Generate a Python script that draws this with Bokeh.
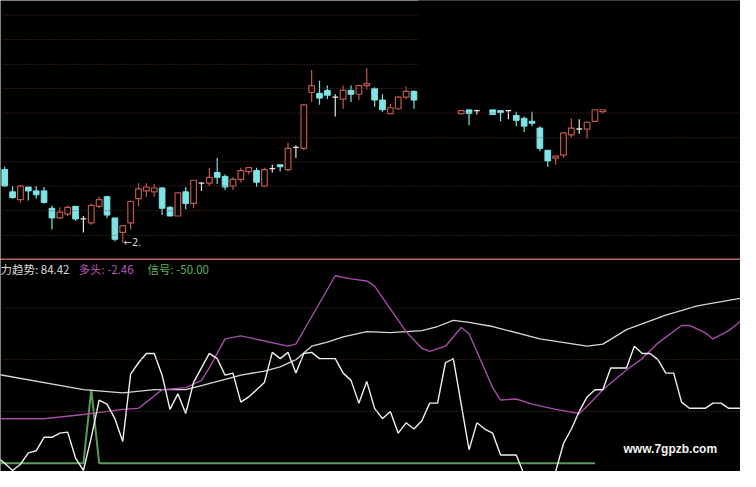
from bokeh.plotting import figure
from bokeh.layouts import column
from bokeh.models import Range1d, Span, BoxAnnotation, Label, ColumnDataSource
from bokeh.embed import file_html
from bokeh.resources import INLINE

# ---------------- data ----------------
# candlesticks: bar index, open, high, low, close (price units)
candle_idx = list(range(0, 53)) + [58, 59, 60] + list(range(62, 77))
candle_open = [9.3, 7.0, 6.2, 7.5, 7.1, 7.1, 5.3, 4.3, 4.7, 5.5,
               4.2, 3.8, 5.5, 6.5, 4.3, 2.8, 3.8, 6.3, 7.1, 7.0,
               7.4, 5.4, 4.5, 7.0, 5.8, 7.9, 7.9, 9.0, 8.6, 7.6,
               8.3, 9.1, 9.2, 7.6, 9.4, 9.8, 9.3, 11.6, 11.5, 17.3,
               17.2, 17.5, 16.8, 16.6, 17.5, 17.1, 18.0, 17.7, 16.5, 15.1,
               15.6, 16.8, 17.4,
               15.1, 15.5, 15.4,
               15.5, 15.4, 15.4, 14.9, 14.6, 14.3, 13.6, 11.3, 10.5, 10.8,
               12.9, 13.5, 13.5, 14.3, 15.3]
candle_high = [9.6, 7.6, 7.7, 7.5, 7.6, 7.5, 5.6, 5.4, 5.6, 5.5,
               4.5, 5.8, 6.5, 6.6, 4.3, 3.5, 6.1, 7.9, 7.9, 7.8,
               7.5, 5.5, 6.9, 7.5, 8.2, 8.0, 9.5, 10.5, 8.8, 8.5,
               9.5, 9.6, 9.5, 9.5, 9.8, 9.8, 12.1, 11.8, 16.1, 19.6,
               18.5, 18.0, 17.1, 18.0, 18.0, 18.1, 19.8, 17.8, 17.1, 16.1,
               16.9, 17.9, 17.5,
               15.5, 15.5, 15.5,
               15.5, 15.4, 15.4, 15.3, 14.8, 15.3, 13.8, 11.3, 10.7, 13.1,
               14.6, 14.5, 14.3, 15.5, 15.5]
candle_low = [7.5, 6.3, 5.9, 6.1, 6.3, 5.8, 3.1, 4.2, 4.5, 4.0,
              2.8, 3.6, 5.3, 4.3, 1.9, 1.7, 3.1, 5.5, 6.5, 6.5,
              4.6, 4.5, 4.5, 5.2, 5.3, 7.1, 7.6, 7.8, 7.2, 7.2,
              8.0, 8.8, 7.5, 7.5, 9.0, 9.1, 9.1, 10.5, 11.3, 16.3,
              16.0, 16.6, 14.8, 15.6, 16.3, 16.5, 17.6, 15.8, 15.3, 15.1,
              15.5, 16.6, 15.6,
              15.0, 13.9, 15.0,
              15.0, 14.3, 14.5, 13.8, 13.2, 13.8, 11.2, 9.6, 9.8, 10.5,
              12.6, 13.0, 12.5, 14.3, 15.1]
candle_close = [7.6, 6.4, 7.6, 7.1, 6.7, 5.9, 4.3, 4.9, 5.4, 4.2,
                4.2, 5.6, 6.2, 4.6, 2.1, 3.5, 6.0, 7.3, 7.5, 7.4,
                5.3, 4.5, 6.9, 5.8, 8.2, 7.9, 8.5, 8.5, 7.5, 8.3,
                9.2, 9.5, 8.0, 9.3, 9.4, 9.6, 11.5, 11.6, 16.0, 18.0,
                16.7, 17.0, 16.8, 17.5, 17.1, 18.0, 18.2, 16.5, 15.5, 15.7,
                16.8, 17.4, 16.5,
                15.4, 15.1, 15.4,
                15.0, 15.2, 15.4, 14.4, 13.8, 14.1, 11.5, 10.2, 10.7, 13.1,
                13.6, 13.5, 14.2, 15.5, 15.5]

# price levels of the dotted guide lines in the upper pane
price_grid = [2.5, 5.05, 7.6, 10.1, 12.6, 15.15, 17.7, 20.2, 22.75, 25.3]

# oscillator pane
osc_grid = [0, 50, 100]
# fast white line ("趋势"), one value per bar from index -1 to 94
fast_val = [-44, -50, -57, -51, -40, -38, -25, -25, -21, -20,
            -45, -57, -25, 11, 7, -7, -29, 36, 47, 56,
            56, 35, 2, 17, -2, 28, 42, 56, 51, 35,
            37, 9, 14, 21, 28, 57, 51, 57, 37, 56,
            57, 51, 51, 51, 37, 30, 8, 29, 3, -7,
            0, -21, -11, -17, -9, 8, 8, 47, 51, 7,
            -37, -11, -17, -21, -42, -42, -42, -61, -65, -65,
            -65, -58, -31, -17, 0, 14, 21, 21, 42, 42,
            42, 63, 56, 56, 50, 37, 37, 9, 3, 3,
            3, 8, 8, 3, 3, 3]
fast_idx = list(range(-1, -1 + len(fast_val)))
# slow white line: (bar index, value)
slow_idx = [-1, 10, 15, 19, 23, 25, 28, 30, 33, 35, 37, 39, 41, 43, 46, 49, 53, 55, 57, 59,
            62, 68, 74, 76, 79, 84, 88, 94]
slow_val = [36, 21, 18, 21, 21, 25, 31, 35, 39, 43, 50, 63, 67, 72, 77, 76, 78, 82, 88, 86,
            82, 70, 63, 65, 79, 93, 102, 110]
# purple line ("多头")
bull_idx = [-1, 5, 10, 15, 17, 18, 20, 23, 25, 26, 28, 30, 33, 36, 37, 42, 44, 46, 47, 51,
            53, 54, 56, 58, 59, 62, 63, 65, 67, 70, 73, 74, 76, 79, 81, 83, 86, 87, 89, 90,
            92, 93, 94]
bull_val = [-7, -7, -3, 2, 3, 9, 21, 23, 30, 42, 70, 73, 68, 63, 65, 131, 128, 126, 121, 77,
            61, 58, 63, 81, 75, 23, 11, 12, 7, 2, -2, 5, 21, 40, 51, 66, 83, 83, 76, 70,
            78, 84, 91]
# green line ("信号")
sig_idx = [-1, 10, 11, 12, 75]
sig_val = [-50, -50, 21, -50, -50]

# ---------------- figures ----------------
W = 740
H_TOP = 259
H_BOT = 212
xr = Range1d(-0.535, 93.49)


def make_fig(h, y0, y1):
    f = figure(width=W, height=h, x_range=xr, y_range=Range1d(y0, y1),
               output_backend="svg", toolbar_location=None,
               x_axis_type=None, y_axis_type=None,
               background_fill_color="#000000", border_fill_color="#000000",
               min_border=0, min_border_left=0, min_border_right=0,
               min_border_top=0, min_border_bottom=0)
    f.outline_line_color = None
    f.grid.visible = False
    return f


top = make_fig(H_TOP, 0, 26.8)

for lv in price_grid:
    top.add_layout(Span(location=lv, dimension="width", line_color="#6e3434",
                        line_dash="1 2", line_width=1))
# erased top-right area of the original screenshot
top.add_layout(BoxAnnotation(left=52.6, right=100, bottom=15.55, top=40,
                             fill_color="#000000", fill_alpha=1.0, line_color=None))
top.add_layout(Span(location=0.1, dimension="width", line_color="#8a2626", line_width=1.2))

UP = "#c0584c"
DOWN = "#7ee4e6"
DOJI = "#e6e6e6"
BW = 0.72

cols = []
for o, c in zip(candle_open, candle_close):
    cols.append(UP if c > o else (DOWN if c < o else DOJI))

wick_src = ColumnDataSource(dict(x=candle_idx, lo=candle_low, hi=candle_high, col=cols))
top.segment(x0="x", y0="lo", x1="x", y1="hi", line_color="col", line_width=1.2, source=wick_src)

up_k = [k for k in range(len(candle_idx)) if candle_close[k] > candle_open[k]]
dn_k = [k for k in range(len(candle_idx)) if candle_close[k] < candle_open[k]]
dj_k = [k for k in range(len(candle_idx)) if candle_close[k] == candle_open[k]]

top.vbar(x=[candle_idx[k] for k in up_k], width=BW,
         bottom=[candle_open[k] for k in up_k], top=[candle_close[k] for k in up_k],
         fill_color="#000000", line_color=UP, line_width=1.2)
top.vbar(x=[candle_idx[k] for k in dn_k], width=BW,
         bottom=[candle_close[k] for k in dn_k], top=[candle_open[k] for k in dn_k],
         fill_color=DOWN, line_color=DOWN, line_width=1)
top.segment(x0=[candle_idx[k] - BW / 2 for k in dj_k], x1=[candle_idx[k] + BW / 2 for k in dj_k],
            y0=[candle_open[k] for k in dj_k], y1=[candle_open[k] for k in dj_k],
            line_color=DOJI, line_width=1.4)

top.add_layout(Label(x=123, y=17, x_units="screen", y_units="screen", text="←2.",
                     text_color="#cfcfcf", text_font="DejaVu Sans", text_font_size="10px",
                     text_baseline="middle"))

bot = make_fig(H_BOT, -58.0, 146.7)
for lv in osc_grid:
    bot.add_layout(Span(location=lv, dimension="width", line_color="#6e3434",
                        line_dash="1 2", line_width=1))

bot.line(sig_idx, sig_val, line_color="#5a9a5a", line_width=2)
bot.line(slow_idx, slow_val, line_color="#d6d6d6", line_width=1.3)
bot.line(bull_idx, bull_val, line_color="#a44ca8", line_width=1.4)
bot.line(fast_idx, fast_val, line_color="#f0f0f0", line_width=1.4)

FONT = "Noto Sans CJK SC"
bot.add_layout(Label(x=0, y=203, x_units="screen", y_units="screen", text="力趋势: 84.42",
                     text_color="#dadada", text_font=FONT, text_font_size="11.5px",
                     text_baseline="middle"))
bot.add_layout(Label(x=78, y=203, x_units="screen", y_units="screen", text="多头: -2.46",
                     text_color="#b45ab8", text_font=FONT, text_font_size="11.5px",
                     text_baseline="middle"))
bot.add_layout(Label(x=147, y=203, x_units="screen", y_units="screen", text="信号: -50.00",
                     text_color="#5fb05f", text_font=FONT, text_font_size="11.5px",
                     text_baseline="middle"))
bot.add_layout(Label(x=623, y=23, x_units="screen", y_units="screen", text="www.7gpzb.com",
                     text_color="#f4f4f4", text_font="Liberation Sans", text_font_style="bold",
                     text_font_size="12px", text_baseline="middle"))

p = column(top, bot, spacing=0)

open("out.html", "w").write(file_html(p, INLINE))
